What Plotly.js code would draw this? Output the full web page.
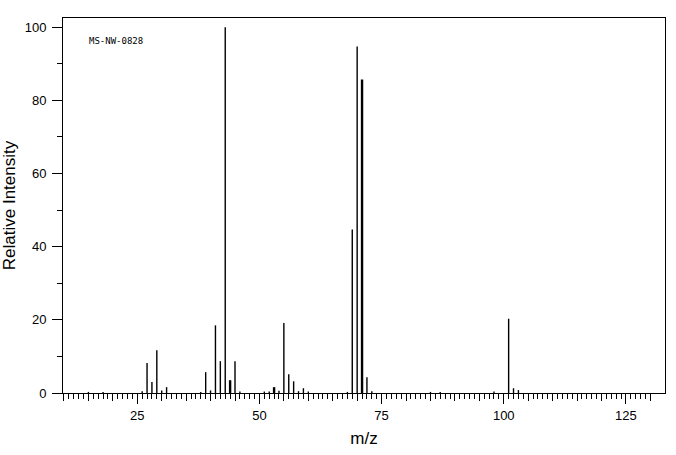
<!DOCTYPE html>
<html>
<head>
<meta charset="utf-8">
<script src="https://cdn.plot.ly/plotly-3.0.1.min.js"></script>
<style>html,body{margin:0;padding:0;background:#fff;}#chart{width:676px;height:455px;}</style>
</head>
<body>
<div id="chart"></div>
<script>
// m/z values and relative intensities
const mz = [15, 18, 26, 27, 28, 29, 30, 31, 38, 39, 40, 41, 42, 43, 44, 45, 46,
            51, 52, 53, 54, 55, 56, 57, 58, 59, 60, 68, 69, 70, 71, 72, 73,
            85, 87, 98, 101, 102, 103];
const intensity = [0.3, 0.3, 0.5, 8.2, 3.0, 11.7, 0.7, 1.6, 0.3, 5.7, 0.7, 18.5, 8.7, 100, 3.5, 8.7, 0.4,
                   0.4, 0.4, 1.6, 0.6, 19.1, 5.1, 3.2, 0.5, 1.3, 0.4, 0.3, 44.7, 94.7, 85.7, 4.3, 0.5,
                   0.3, 0.3, 0.4, 20.3, 1.3, 0.8];
const xTickVals = [25, 50, 75, 100, 125];
const xTickText = ['25', '50', '75', '100', '125'];
const yTickVals = [0, 20, 40, 60, 80, 100];
const yTickText = ['0', '20', '40', '60', '80', '100'];
const sampleId = 'MS-NW-0828';

// stick spectrum: each peak is a vertical line from 0 to its intensity
const thick = new Set([44, 53, 71]);
function sticks(filter) {
  const xs = [], ys = [];
  mz.forEach((m, i) => {
    if (filter(m)) { xs.push(m, m, null); ys.push(0, intensity[i], null); }
  });
  return {xs, ys};
}
const thin = sticks(m => !thick.has(m));
const fat = sticks(m => thick.has(m));

const fives = [], ones = [];
for (let v = 10; v <= 130; v += 5) fives.push(v);
for (let v = 10; v <= 130; v += 1) ones.push(v);

const font = {family: 'Liberation Sans, Arial, sans-serif', size: 13, color: '#000'};
const xr = [9.8, 133.0];

const data = [
  {type: 'scatter', mode: 'lines', x: thin.xs, y: thin.ys, line: {color: '#000', width: 1.4}, hoverinfo: 'skip', cliponaxis: false},
  {type: 'scatter', mode: 'lines', x: fat.xs, y: fat.ys, line: {color: '#000', width: 2.4}, hoverinfo: 'skip', cliponaxis: false},
  // invisible helper so the secondary tick axis is drawn
  {type: 'scatter', mode: 'lines', x: xr, y: [0, 0], xaxis: 'x2', line: {color: 'rgba(0,0,0,0)', width: 0}, hoverinfo: 'skip'}
];

const layout = {
  width: 676, height: 455,
  margin: {l: 63, r: 11, t: 18, b: 62},
  paper_bgcolor: '#fff', plot_bgcolor: '#fff',
  showlegend: false,
  font: font,
  xaxis: {
    range: xr, autorange: false,
    tickmode: 'array', tickvals: xTickVals, ticktext: xTickText,
    ticks: 'outside', ticklen: 10, tickwidth: 1, tickcolor: '#000',
    showline: true, linecolor: '#000', linewidth: 1, mirror: true,
    showgrid: false, zeroline: false,
    tickfont: font,
    title: {text: 'm/z', font: {family: font.family, size: 17, color: '#000'}, standoff: 10}
  },
  xaxis2: {
    overlaying: 'x', anchor: 'y', side: 'bottom',
    range: xr, autorange: false,
    tickmode: 'array', tickvals: fives,
    ticks: 'outside', ticklen: 7, tickwidth: 1, tickcolor: '#000',
    showticklabels: false, showline: false, showgrid: false, zeroline: false,
    minor: {tickmode: 'array', tickvals: ones, ticks: 'outside', ticklen: 5, tickwidth: 1, tickcolor: '#000', showgrid: false}
  },
  yaxis: {
    range: [0, 102.5], autorange: false,
    tickmode: 'array', tickvals: yTickVals, ticktext: yTickText,
    ticks: 'outside', ticklen: 10, tickwidth: 1, tickcolor: '#000',
    minor: {dtick: 10, tick0: 0, ticks: 'outside', ticklen: 5, tickwidth: 1, tickcolor: '#000', showgrid: false},
    showline: true, linecolor: '#000', linewidth: 1, mirror: true,
    showgrid: false, zeroline: false,
    tickfont: font,
    ticklabelstandoff: 3,
    title: {text: 'Relative Intensity', font: {family: font.family, size: 17, color: '#000'}, standoff: 8}
  },
  annotations: [{
    xref: 'paper', yref: 'paper', x: 0.04, y: 0.939,
    xanchor: 'left', yanchor: 'middle', showarrow: false,
    text: sampleId,
    font: {family: 'DejaVu Sans Mono, monospace', size: 9, color: '#000'}
  }]
};

Plotly.newPlot('chart', data, layout, {displayModeBar: false, staticPlot: true});
</script>
</body>
</html>
